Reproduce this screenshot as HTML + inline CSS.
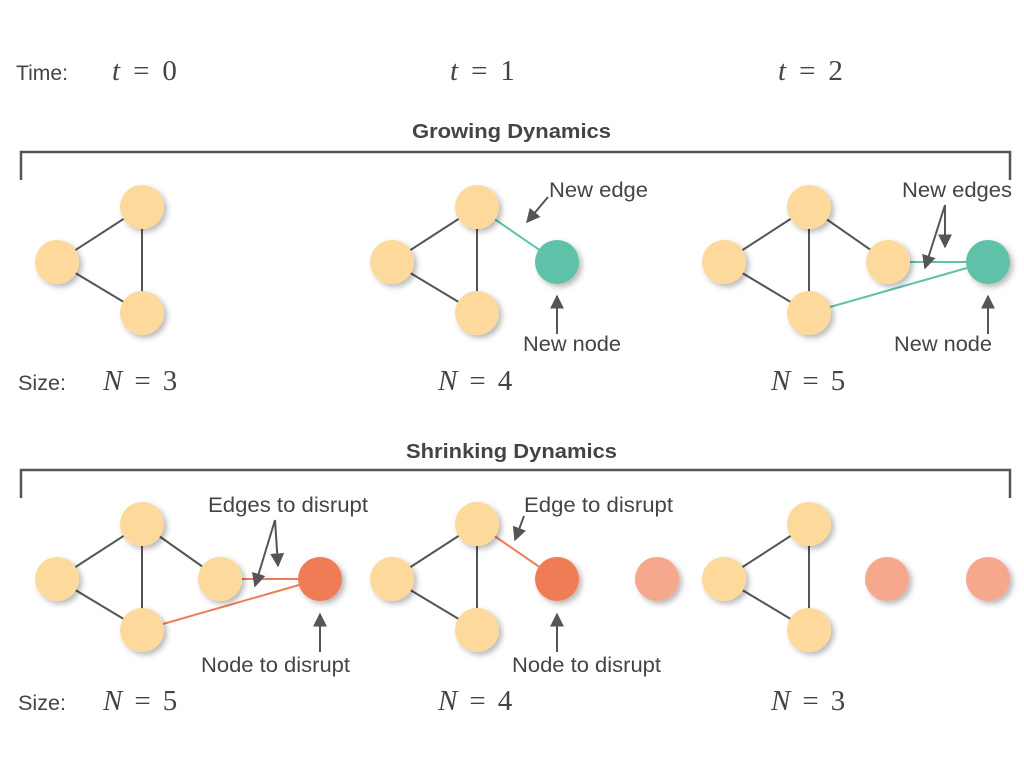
<!DOCTYPE html>
<html><head><meta charset="utf-8"><style>
body{margin:0;background:#fff}
svg text{font-family:"Liberation Sans",sans-serif;fill:#444}
.m{font-family:"Liberation Serif",serif;font-style:italic;font-size:29px;fill:#444}
</style></head><body>
<svg width="1024" height="768">
<defs>
<filter id="sh" x="-50%" y="-50%" width="200%" height="200%"><feDropShadow dx="3" dy="3" stdDeviation="3" flood-color="#000" flood-opacity="0.28"/></filter>
<marker id="ah" viewBox="0 0 10 10" refX="9" refY="5" markerWidth="7" markerHeight="7" orient="auto"><path d="M0,0L10,5L0,10z" fill="#555"/></marker>
</defs>
<g>
<text x="16" y="80" font-size="21" textLength="52" lengthAdjust="spacingAndGlyphs">Time:</text>
<text x="112" y="80" class="m">t<tspan font-style="normal" dx="13">=</tspan><tspan font-style="normal" dx="13">0</tspan></text>
<text x="450" y="80" class="m">t<tspan font-style="normal" dx="13">=</tspan><tspan font-style="normal" dx="13">1</tspan></text>
<text x="778" y="80" class="m">t<tspan font-style="normal" dx="13">=</tspan><tspan font-style="normal" dx="13">2</tspan></text>
<text x="412" y="138" font-size="20" font-weight="bold" textLength="199" lengthAdjust="spacingAndGlyphs">Growing Dynamics</text>
<text x="406" y="458" font-size="20" font-weight="bold" textLength="211" lengthAdjust="spacingAndGlyphs">Shrinking Dynamics</text>
<text x="18" y="390" font-size="21" textLength="48" lengthAdjust="spacingAndGlyphs">Size:</text>
<text x="103" y="390" class="m">N<tspan font-style="normal" dx="12">=</tspan><tspan font-style="normal" dx="12">3</tspan></text>
<text x="438" y="390" class="m">N<tspan font-style="normal" dx="12">=</tspan><tspan font-style="normal" dx="12">4</tspan></text>
<text x="771" y="390" class="m">N<tspan font-style="normal" dx="12">=</tspan><tspan font-style="normal" dx="12">5</tspan></text>
<text x="18" y="710" font-size="21" textLength="48" lengthAdjust="spacingAndGlyphs">Size:</text>
<text x="103" y="710" class="m">N<tspan font-style="normal" dx="12">=</tspan><tspan font-style="normal" dx="12">5</tspan></text>
<text x="438" y="710" class="m">N<tspan font-style="normal" dx="12">=</tspan><tspan font-style="normal" dx="12">4</tspan></text>
<text x="771" y="710" class="m">N<tspan font-style="normal" dx="12">=</tspan><tspan font-style="normal" dx="12">3</tspan></text>
</g>
<g fill="none" stroke="#555" stroke-width="2.5">
<path d="M21,180V152H1010V180"/>
<path d="M21,498V470H1010V498"/>
</g>
<g id="edges" stroke-width="2"></g>
<g id="nodes"></g>
<g stroke="#555" stroke-width="2" fill="none">
<line x1="548" y1="197" x2="527" y2="222" marker-end="url(#ah)"/>
<line x1="557" y1="334" x2="557" y2="296" marker-end="url(#ah)"/>
<line x1="945" y1="205" x2="925" y2="268" marker-end="url(#ah)"/>
<line x1="945" y1="205" x2="945" y2="247" marker-end="url(#ah)"/>
<line x1="988" y1="334" x2="988" y2="296" marker-end="url(#ah)"/>
<line x1="275" y1="520" x2="255" y2="586" marker-end="url(#ah)"/>
<line x1="275" y1="520" x2="278" y2="566" marker-end="url(#ah)"/>
<line x1="320" y1="652" x2="320" y2="614" marker-end="url(#ah)"/>
<line x1="524" y1="516" x2="515" y2="540" marker-end="url(#ah)"/>
<line x1="557" y1="652" x2="557" y2="614" marker-end="url(#ah)"/>
</g>
<g font-size="21">
<text x="549" y="197" textLength="99" lengthAdjust="spacingAndGlyphs">New edge</text>
<text x="523" y="351" textLength="98" lengthAdjust="spacingAndGlyphs">New node</text>
<text x="902" y="197" textLength="110" lengthAdjust="spacingAndGlyphs">New edges</text>
<text x="894" y="351" textLength="98" lengthAdjust="spacingAndGlyphs">New node</text>
<text x="208" y="512" textLength="160" lengthAdjust="spacingAndGlyphs">Edges to disrupt</text>
<text x="201" y="672" textLength="149" lengthAdjust="spacingAndGlyphs">Node to disrupt</text>
<text x="524" y="512" textLength="149" lengthAdjust="spacingAndGlyphs">Edge to disrupt</text>
<text x="512" y="672" textLength="149" lengthAdjust="spacingAndGlyphs">Node to disrupt</text>
</g>
</svg>
<script>
const Y='#FDD99B',T='#5FC2A8',R='#F07C57',F='#F5A88E',G='#555';
const nodes=[[57,262,Y],[142,207,Y],[142,313,Y],
[392,262,Y],[477,207,Y],[477,313,Y],[557,262,T],
[724,262,Y],[809,207,Y],[809,313,Y],[888,262,Y],[988,262,T],
[57,579,Y],[142,524,Y],[142,630,Y],[220,579,Y],[320,579,R],
[392,579,Y],[477,524,Y],[477,630,Y],[557,579,R],[657,579,F],
[724,579,Y],[809,524,Y],[809,630,Y],[887,579,F],[988,579,F]];
const edges=[[0,1,G],[0,2,G],[1,2,G],[3,4,G],[3,5,G],[4,5,G],[4,6,T],
[7,8,G],[7,9,G],[8,9,G],[8,10,G],[10,11,T],[9,11,T],
[12,13,G],[12,14,G],[13,14,G],[13,15,G],[15,16,R],[14,16,R],
[17,18,G],[17,19,G],[18,19,G],[18,20,R],
[22,23,G],[22,24,G],[23,24,G]];
const ns='http://www.w3.org/2000/svg';
const eg=document.getElementById('edges'),ng=document.getElementById('nodes');
edges.forEach(e=>{const a=nodes[e[0]],b=nodes[e[1]];const l=document.createElementNS(ns,'line');
l.setAttribute('x1',a[0]);l.setAttribute('y1',a[1]);l.setAttribute('x2',b[0]);l.setAttribute('y2',b[1]);l.setAttribute('stroke',e[2]);


eg.appendChild(l);});
nodes.forEach(n=>{const c=document.createElementNS(ns,'circle');
c.setAttribute('cx',n[0]);c.setAttribute('cy',n[1]);c.setAttribute('r',22);c.setAttribute('fill',n[2]);c.setAttribute('filter','url(#sh)');


ng.appendChild(c);});
</script>
</body></html>
